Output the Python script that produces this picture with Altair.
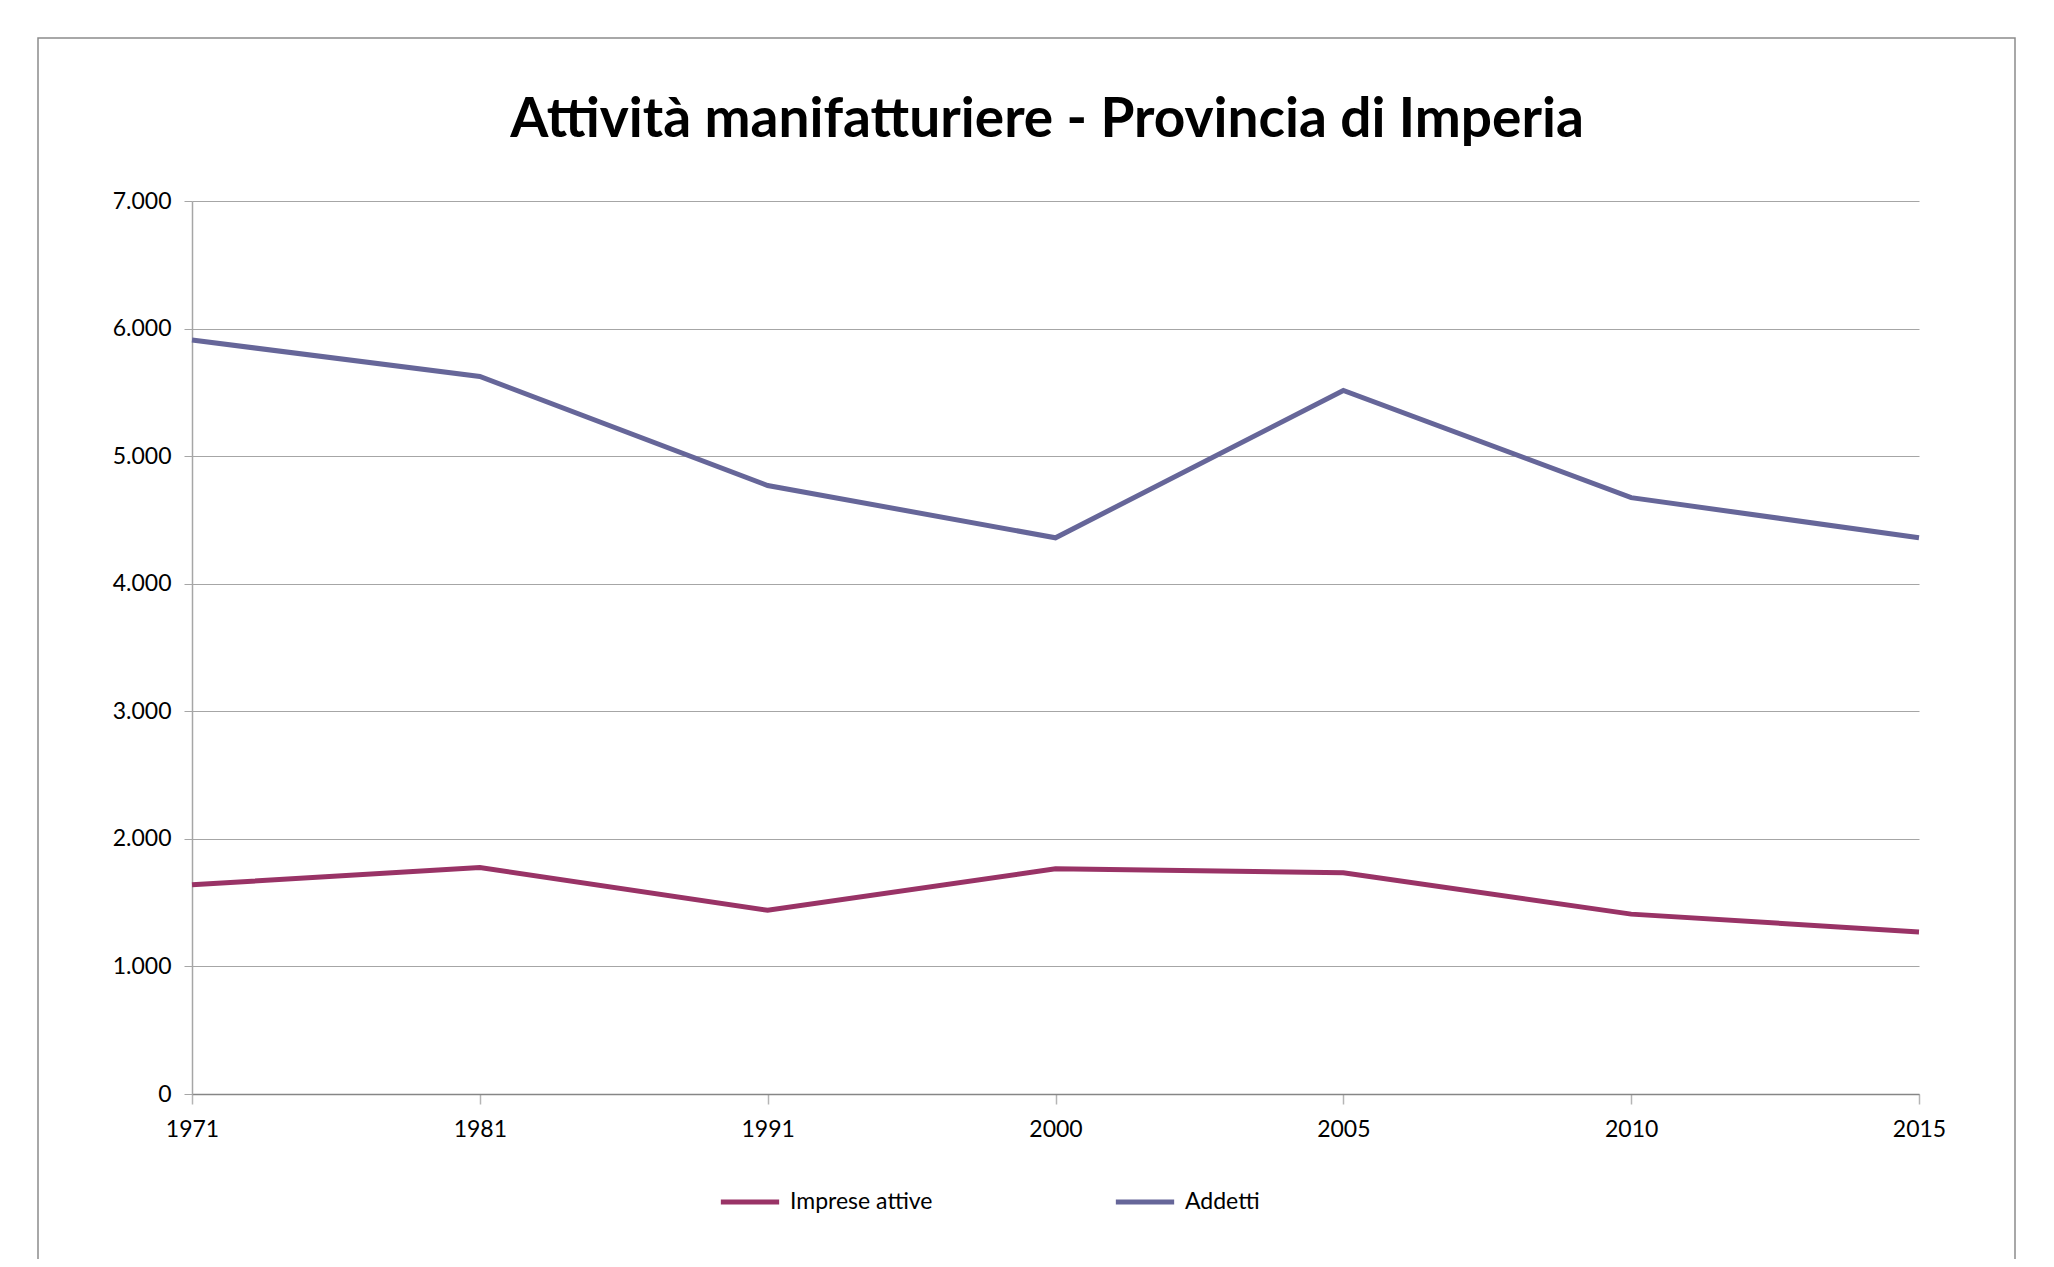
import altair as alt
import pandas as pd

years = ["1971", "1981", "1991", "2000", "2005", "2010", "2015"]
imprese = [1640, 1775, 1440, 1765, 1735, 1410, 1270]
addetti = [5910, 5625, 4770, 4360, 5515, 4675, 4360]
series_names = ["Imprese attive", "Addetti"]
series_colors = ["#993366", "#666699"]
y_ticks = [0, 1000, 2000, 3000, 4000, 5000, 6000, 7000]
title_text = "Attività manifatturiere - Provincia di Imperia"

rows = []
for i, yr in enumerate(years):
    rows.append({"anno": yr, "serie": series_names[0], "valore": imprese[i], "ord": 0})
    rows.append({"anno": yr, "serie": series_names[1], "valore": addetti[i], "ord": 1})
df = pd.DataFrame(rows)

FONT = "Lato"

frame = alt.Chart(alt.Data(values=[{"k": 1}])).mark_rect(
    fill=None, stroke="#8c8c8c", strokeWidth=1.5, clip=False
).encode(
    x=alt.value(-154), x2=alt.value(1823), y=alt.value(-163), y2=alt.value(1059)
)

title = alt.Chart(alt.Data(values=[{"t": title_text}])).mark_text(
    font=FONT, fontSize=55, fontWeight="bold", color="#000000",
    align="center", baseline="alphabetic", clip=False
).encode(
    text="t:N", x=alt.value(855), y=alt.value(-64)
)

lines = alt.Chart(df).mark_line(strokeWidth=5, clip=False).encode(
    x=alt.X("anno:O", sort=years,
            scale=alt.Scale(type="point", padding=0),
            axis=alt.Axis(title=None, labelAngle=0, labelFont=FONT, labelFontSize=23,
                          labelColor="#000000", labelPadding=14, tickSize=10,
                          tickColor="#b5b5b5", tickWidth=1.5, domainColor="#868686",
                          domainWidth=1.5, grid=False)),
    y=alt.Y("valore:Q",
            scale=alt.Scale(domain=[0, 7000], nice=False),
            axis=alt.Axis(title=None, values=y_ticks, labelFont=FONT, labelFontSize=23,
                          labelColor="#000000", labelPadding=13, tickSize=8,
                          tickColor="#a6a6a6", domainColor="#a6a6a6", domainWidth=1.5,
                          gridColor="#a6a6a6", gridWidth=1.2,
                          labelExpr="replace(format(datum.value, ','), ',', '.')")),
    color=alt.Color("serie:N",
                    scale=alt.Scale(domain=series_names, range=series_colors),
                    legend=alt.Legend(title=None, orient="none", legendX=526, legendY=969,
                                      direction="horizontal", symbolType="stroke",
                                      symbolSize=3400, symbolStrokeWidth=5,
                                      labelFont=FONT, labelFontSize=23, labelColor="#000000",
                                      labelOffset=8, columnPadding=172, padding=0)),
    order="ord:Q",
)

chart = alt.layer(frame, lines, title).properties(
    width=1727,
    height=893,
    padding={"left": 184, "top": 193, "right": 120, "bottom": 165},
    autosize=alt.AutoSizeParams(type="none"),
    view=alt.ViewBackground(stroke="transparent", strokeWidth=0),
).configure(
    background="white",
    view=alt.ViewConfig(stroke="transparent", strokeWidth=0),
    style={"cell": {"stroke": "transparent", "strokeWidth": 0}},
)

chart.save("out.html", embed_options={"renderer": "svg", "actions": False})
